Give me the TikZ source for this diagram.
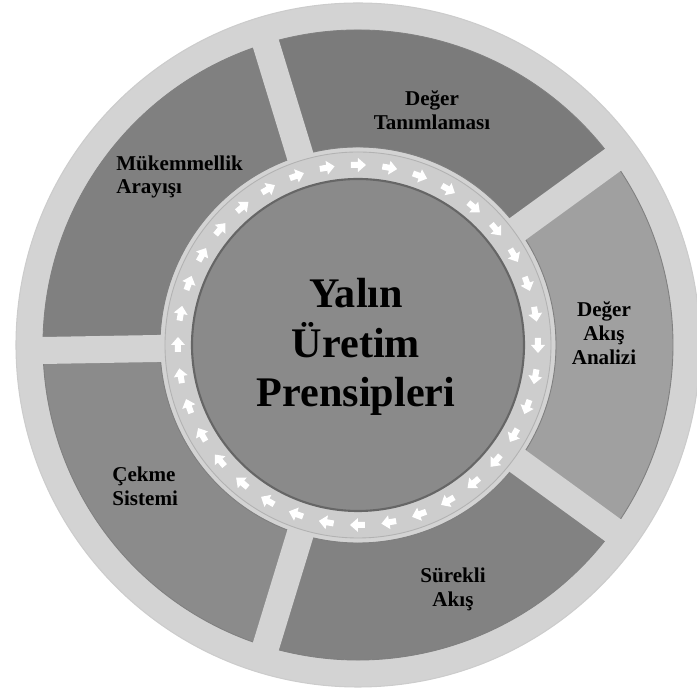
\documentclass[tikz,border=0pt]{standalone}
\usepackage{fontspec}
\setmainfont{Liberation Serif}
\usetikzlibrary{positioning}
\usepackage{xcolor}
\definecolor{band}{HTML}{D3D3D3}
\definecolor{ringgray}{HTML}{CDCDCD}
\definecolor{hubgray}{HTML}{8A8A8A}
\definecolor{segdark}{HTML}{7B7B7B}
\definecolor{seglight}{HTML}{A0A0A0}
\definecolor{segmid}{HTML}{828282}
\definecolor{segpull}{HTML}{8B8B8B}
\definecolor{segperf}{HTML}{808080}

\tikzset{
  segment/.style={draw=black!50, line width=0.5pt},
  gapstrip/.style={draw=band, line width=0.54cm},
  flowarrow/.style={fill=white, draw=none},
  seglabel/.style={font=\fontsize{12}{13.6}\selectfont\bfseries, inner sep=0pt},
}

\begin{document}
\begin{tikzpicture}[x=0.02cm, y=0.02cm]
  \useasboundingbox (-358,-347) rectangle (339,345);
  % outer disk
  \fill[band, draw=black!20, line width=0.6pt] (0,0) circle[radius=342];
  % five segments
  \foreach \a/\b/\c in {36/107/segdark, -36/36/seglight, -107/-36/segmid, 181/253/segpull, 107/181/segperf}
    \filldraw[segment, fill=\c] (\a:198) -- (\a:315) arc[start angle=\a, end angle=\b, radius=315]
      -- (\b:198) arc[start angle=\b, end angle=\a, radius=198] -- cycle;
  % gaps between the segments
  \foreach \g in {181,107,36,-36,-107}
    \draw[gapstrip] (\g:185) -- (\g:328);
  % arrow ring and hub
  \filldraw[fill=ringgray, draw=black!30, line width=0.5pt] (0,0) circle[radius=193];
  \foreach \k in {0,...,35}{
    \pgfmathsetmacro\ang{90+10*\k}
    \fill[flowarrow, shift={(\ang:180)}, rotate=\ang-90]
      (-7,-3) -- (0,-3) -- (0,-7) -- (8,0) -- (0,7) -- (0,3) -- (-7,3) -- cycle;
  }
  \filldraw[fill=hubgray, draw=black!60, line width=1.2pt] (0,0) circle[radius=166];

  \node[font=\fontsize{24}{28.3}\selectfont\bfseries, align=center] (title) at (-2,-2)
    {Yalın\\Üretim\\Prensipleri};

  \node[seglabel, align=center] (deger) at (74,235) {Değer\\Tanımlaması};
  \node[seglabel, align=center] (akis) at (246,12) {Değer\\Akış\\Analizi};
  \node[seglabel, align=center] (surekli) at (95,-244) {Sürekli\\Akış};
  \node[seglabel, align=left, anchor=west] (cekme) at (-246,-141) {Çekme\\Sistemi};
  \node[seglabel, align=left, anchor=west] (mukemmel) at (-242,168) {Mükemmellik\\Arayışı};
\end{tikzpicture}
\end{document}
